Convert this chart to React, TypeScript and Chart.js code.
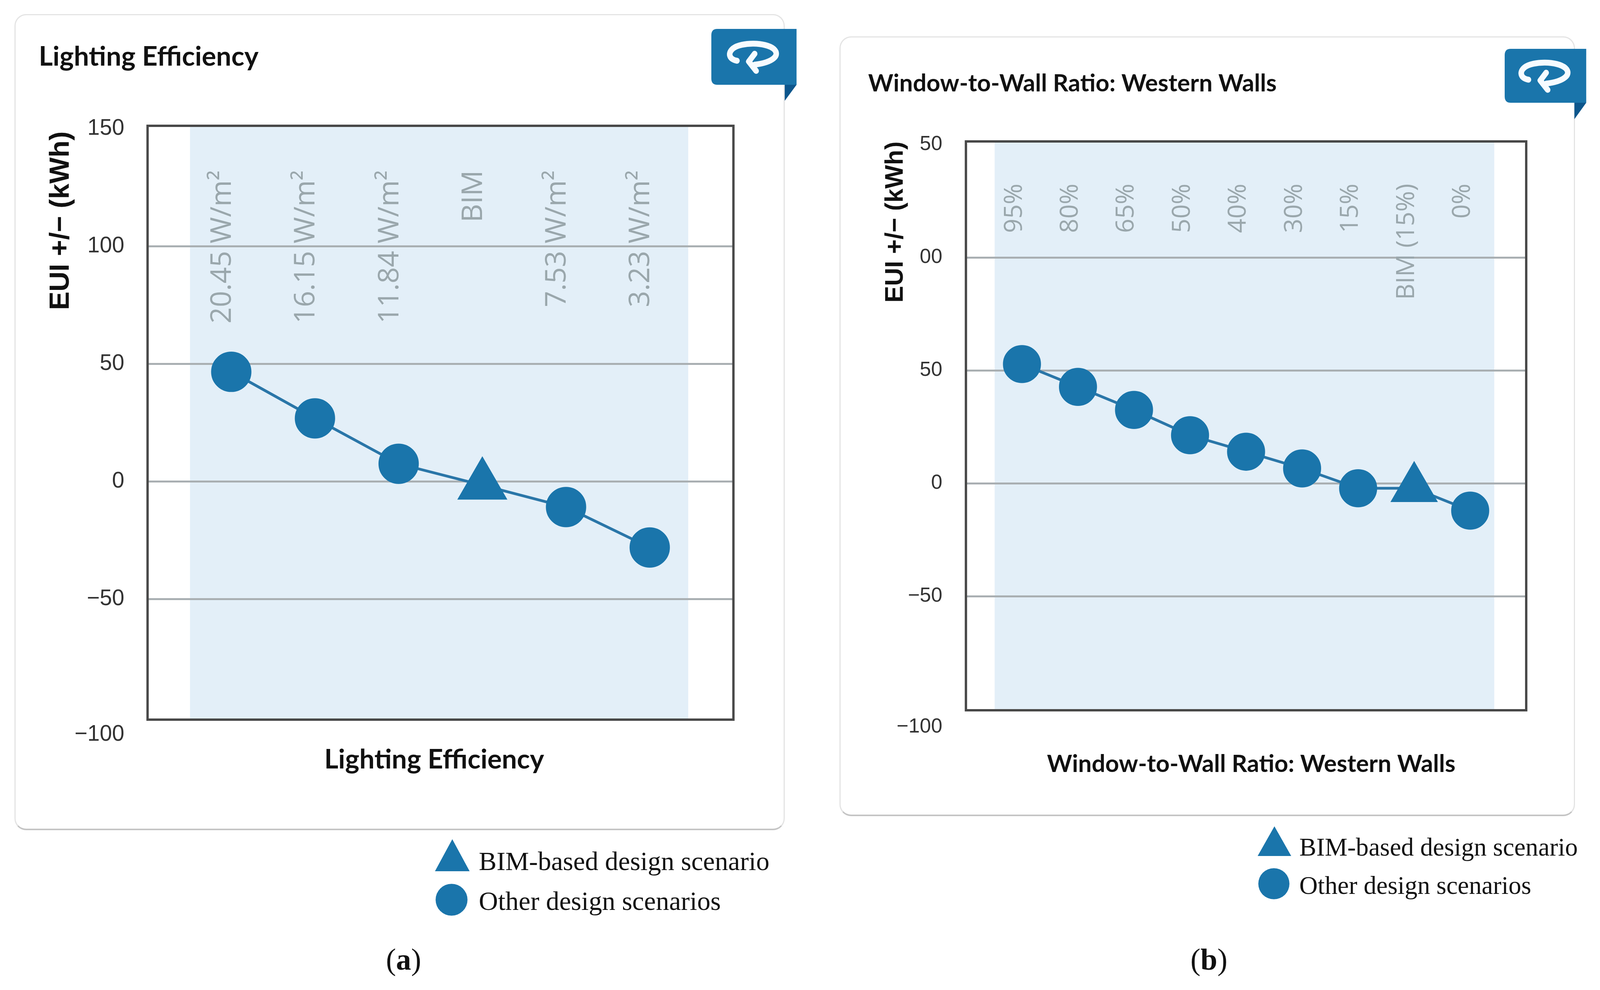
import React, { useEffect, useRef } from "react";
import { Chart, registerables } from "chart.js";

Chart.register(...registerables);

// ---- data ----
const lightingLabels = ["", "20.45 W/m²", "16.15 W/m²", "11.84 W/m²", "BIM", "7.53 W/m²", "3.23 W/m²", ""];
const lightingValues = [null, 46.7, 26.9, 7.6, -1.5, -10.8, -28, null];
const lightingBimLabel = "BIM";
const lightingTickLabels = ["−100", "−50", "0", "50", "100", "150"];

const wwrLabels = ["", "95%", "80%", "65%", "50%", "40%", "30%", "15%", "BIM (15%)", "0%", ""];
const wwrValues = [null, 52.8, 42.7, 32.5, 21.3, 14, 6.6, -2.2, -2.2, -12.1, null];
const wwrBimLabel = "BIM (15%)";
const wwrTickLabels = ["−100", "−50", "0", "50", "00", "50"];

const yTickValues = [-100, -50, 0, 50, 100, 150];
const yAxisTitle = "EUI +/− (kWh)";
const lightingTitle = "Lighting Efficiency";
const wwrTitle = "Window-to-Wall Ratio: Western Walls";
const legendBim = "BIM-based design scenario";
const legendOther = "Other design scenarios";

const BLUE = "#1a75ab";
const SERIF = "'Liberation Serif', serif";
const SANS = "'Liberation Sans', sans-serif";
const TITLE_FONT = "Lato, sans-serif";
const HEIGHT = 2534;
const CHART_H = 2060;

// The browser's page can be narrower than the reference: horizontal measures follow its width.
const kx = Math.min(1, window.innerWidth / 4337);
const kr = (1 + kx) / 2;

type PanelProps = {
  canvasLeft: number; width: number;
  labels: string[]; values: (number | null)[]; bimLabel: string; tickLabels: string[];
  title: string; titleSize: number; titleCenter: number; xTitleCenter: number;
  frameTop: number; frameBottom: number;
  pad: { left: number; right: number }; yWidth: number;
  yMin: number; yMax: number;
  tickSize: number; tickDrop: number; tickPad: number;
  yTitleSize: number; yTitleCenter: number; yTitleShift: number;
  catSize: number; catPad: number; catOffset: number;
  shade: [number, number];
  xTitleShift: number;
  circle: number; tri: number;
};

function Panel(p: PanelProps) {
  const ref = useRef<HTMLCanvasElement>(null);
  const width = Math.round(p.width * kx);
  useEffect(() => {
    const titleSize = p.titleSize * kx;
    const lh = titleSize * 1.2;
    const tickSize = p.tickSize * kx;
    const xBottom = CHART_H - p.xTitleCenter - lh / 2;
    const panelPlugin = {
      id: "panelDecor",
      afterLayout(chart: any) {
        const t = chart.scales.xTitle;
        t.left += p.xTitleShift * kx;
        t.right += p.xTitleShift * kx;
        chart.scales.y.top += p.yTitleShift;
      },
      beforeDraw(chart: any) {
        const { ctx, chartArea, scales } = chart;
        const a = scales.x.getPixelForValue(p.shade[0]);
        const b = scales.x.getPixelForValue(p.shade[1]);
        ctx.save();
        ctx.fillStyle = "#e3eff8";
        ctx.fillRect(a, chartArea.top, b - a, chartArea.bottom - chartArea.top);
        ctx.restore();
      },
      afterDraw(chart: any) {
        const { ctx, chartArea } = chart;
        ctx.save();
        ctx.strokeStyle = "#484848";
        ctx.lineWidth = 6;
        ctx.strokeRect(chartArea.left, chartArea.top, chartArea.right - chartArea.left, chartArea.bottom - chartArea.top);
        ctx.restore();
      },
    };
    const chart = new Chart(ref.current as HTMLCanvasElement, {
      type: "line",
      data: {
        labels: p.labels,
        datasets: [{
          label: "EUI",
          data: p.values,
          borderColor: "#2a76a8",
          borderWidth: 7,
          tension: 0,
          backgroundColor: BLUE,
          pointBackgroundColor: BLUE,
          pointBorderColor: BLUE,
          pointBorderWidth: 6,
          pointStyle: (c: any) => (p.labels[c.dataIndex] === p.bimLabel ? "triangle" : "circle"),
          pointRadius: (c: any) => (p.labels[c.dataIndex] === p.bimLabel ? p.tri * kr : p.circle * kr),
        }] as any,
      },
      plugins: [panelPlugin],
      options: {
        animation: false,
        responsive: false,
        devicePixelRatio: 1,
        layout: { padding: { left: p.pad.left * kx, right: p.pad.right * kx, top: 0, bottom: 0 } },
        plugins: {
          legend: { display: false },
          tooltip: { enabled: false },
          title: {
            display: true, text: p.title, align: "start", color: "#111",
            font: { family: TITLE_FONT, size: titleSize, weight: "bold" },
            padding: { top: p.titleCenter - lh / 2, bottom: p.frameTop - p.titleCenter - lh / 2 },
          },
        },
        scales: {
          x: {
            type: "category",
            offset: false,
            position: { y: 150 },
            grid: { display: false },
            border: { display: false },
            afterFit: (s: any) => { s.paddingLeft = 0; s.paddingRight = 0; },
            ticks: {
              autoSkip: false, minRotation: 90, maxRotation: 90,
              padding: p.catPad, labelOffset: p.catOffset * kx, color: "#9aa7ac",
              font: { family: "'Open Sans', sans-serif", size: p.catSize },
            },
          },
          xTitle: {
            type: "linear", axis: "x", position: "bottom", min: 0, max: 1,
            grid: { display: false, drawTicks: false }, border: { display: false },
            ticks: { display: false },
            afterFit: (s: any) => { s.paddingLeft = 0; s.paddingRight = 0; },
            title: {
              display: true, text: p.title, color: "#111",
              font: { family: TITLE_FONT, size: titleSize, weight: "bold" },
              padding: { top: CHART_H - p.frameBottom - xBottom - lh, bottom: xBottom },
            },
          },
          y: {
            type: "linear", position: "left", min: p.yMin, max: p.yMax,
            afterBuildTicks: (s: any) => { s.ticks = yTickValues.map((value) => ({ value })); },
            afterFit: (s: any) => { s.width = p.yWidth * kx; },
            grid: {
              drawTicks: false, lineWidth: 5,
              color: (c: any) => (c.tick && Math.abs(c.tick.value) !== 150 && c.tick.value !== -100 ? "#a9afb2" : "rgba(0,0,0,0)"),
            },
            border: { display: false },
            ticks: {
              color: "#333", padding: p.tickPad * kx,
              font: { family: SANS, size: tickSize, lineHeight: (2 * p.tickDrop) / tickSize },
              callback: (v: any) => {
                const t = p.tickLabels[yTickValues.indexOf(v)];
                return v === -100 ? ["", t] : t;
              },
            },
            title: {
              display: true, text: yAxisTitle, align: "end", color: "#111",
              font: { family: SANS, size: p.yTitleSize, weight: "bold" },
              padding: { top: p.yTitleCenter * kx - (p.yTitleSize * 1.2) / 2, bottom: 0 },
            },
          },
        },
      } as any,
    });
    return () => chart.destroy();
  }, []);
  return (
    <canvas
      ref={ref}
      width={width}
      height={CHART_H}
      style={{ position: "absolute", left: p.canvasLeft * kx, top: 0, width, height: CHART_H }}
    />
  );
}

function Card({ l, t, r, b }: { l: number; t: number; r: number; b: number }) {
  return (
    <div style={{
      position: "absolute", left: l * kx, top: t, width: (r - l) * kx, height: b - t, boxSizing: "border-box",
      border: "3px solid #e4e4e4", borderBottom: "4px solid #c4c4c4", borderRadius: 30, background: "#fff",
    }} />
  );
}

function Badge({ l, t, r, b, n, tip }: { l: number; t: number; r: number; b: number; n: number; tip: number }) {
  const w = r - l, h = b - t;
  return (
    <svg style={{ position: "absolute", left: l * kx, top: t, overflow: "visible" }} width={w * kx} height={tip - t} viewBox={`0 0 ${w} ${tip - t}`} preserveAspectRatio="none">
      <path d={`M${n - l} ${h} L${w} ${h} L${n - l} ${tip - t} Z`} fill="#0d568c" />
      <path d={`M16 0 H${w} V${h} H16 Q0 ${h} 0 ${h - 16} V16 Q0 0 16 0 Z`} fill={BLUE} />
      <g transform={`translate(${w / 2 - 118} ${h / 2 - 72})`} fill="none" stroke="#f6fbff" strokeWidth="15" strokeLinecap="round" strokeLinejoin="round">
        <path d="M72 82 C50 78 46 62 62 50 C84 34 150 34 172 52 C190 68 170 86 120 92" />
        <path d="M120 64 L104 84 L124 108" />
      </g>
    </svg>
  );
}

function Legend({ x, triX, triW, triT, triB, cx, cy, r, y1, y2, size }: any) {
  const s = size * kx;
  const row = (text: string, y: number) => (
    <div style={{ position: "absolute", left: x * kx, top: y - s * 0.6, fontFamily: SERIF, fontSize: s, lineHeight: `${s * 1.2}px`, color: "#111", whiteSpace: "nowrap" }}>{text}</div>
  );
  const tx = triX * kx, tw = triW * kx;
  return (
    <>
      <svg style={{ position: "absolute", left: 0, top: 0 }} width={4337 * kx} height={HEIGHT}>
        <path d={`M${tx + tw / 2} ${triT} L${tx + tw} ${triB} L${tx} ${triB} Z`} fill={BLUE} />
        <circle cx={cx * kx} cy={cy} r={r * kr} fill={BLUE} />
      </svg>
      {row(legendBim, y1)}
      {row(legendOther, y2)}
    </>
  );
}

function Caption({ cx, cy, letter }: { cx: number; cy: number; letter: string }) {
  const s = 82 * kx;
  return (
    <div style={{ position: "absolute", left: cx * kx - 100, width: 200, top: cy - 45, textAlign: "center", fontFamily: SERIF, fontSize: s, lineHeight: "90px", color: "#111" }}>
      (<b>{letter}</b>)
    </div>
  );
}

export default function App() {
  return (
    <div style={{ position: "absolute", left: 0, top: 0, width: 4337 * kx, height: HEIGHT, background: "#fff", overflow: "hidden" }}>
      <Card l={39} t={36} r={2127} b={2125} />
      <Card l={2275} t={93} r={4269} b={2089} />
      <Panel
        canvasLeft={0} width={2160}
        labels={lightingLabels} values={lightingValues} bimLabel={lightingBimLabel} tickLabels={lightingTickLabels}
        title={lightingTitle} titleSize={73} titleCenter={146} xTitleCenter={1945}
        frameTop={322} frameBottom={1842}
        pad={{ left: 105, right: 172 }} yWidth={295}
        yMin={-101.2} yMax={151.3}
        tickSize={60} tickDrop={46} tickPad={63}
        yTitleSize={71} yTitleCenter={61} yTitleShift={14}
        catSize={73} catPad={98} catOffset={-23}
        shade={[0.507, 6.46]}
        xTitleShift={-17}
        circle={50} tri={70}
      />
      <Panel
        canvasLeft={2200} width={2137}
        labels={wwrLabels} values={wwrValues} bimLabel={wwrBimLabel} tickLabels={wwrTickLabels}
        title={wwrTitle} titleSize={65} titleCenter={214} xTitleCenter={1956}
        frameTop={362} frameBottom={1818}
        pad={{ left: 153, right: 200 }} yWidth={265}
        yMin={-100.5} yMax={151.4}
        tickSize={55} tickDrop={46} tickPad={64}
        yTitleSize={64} yTitleCenter={75} yTitleShift={0}
        catSize={64} catPad={92} catOffset={-20}
        shade={[0.513, 9.43]}
        xTitleShift={14}
        circle={47} tri={66}
      />
      <Badge l={1928} t={74} r={2159} b={217} n={2127} tip={258} />
      <Badge l={4079} t={125} r={4300} b={263} n={4268} tip={305} />
      <Legend x={1298} triX={1179} triW={94} triT={2148} triB={2230} cx={1224} cy={2303} r={42} y1={2205} y2={2307} size={72} />
      <Legend x={3522} triX={3409} triW={91} triT={2115} triB={2191} cx={3453} cy={2262} r={41} y1={2168} y2={2266} size={69} />
      <Caption cx={1094} cy={2456} letter="a" />
      <Caption cx={3277} cy={2456} letter="b" />
    </div>
  );
}
